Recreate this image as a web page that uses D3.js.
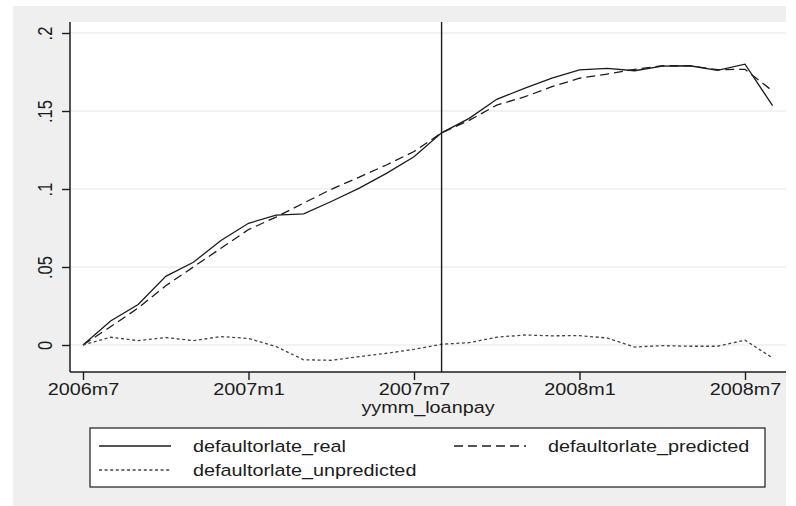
<!DOCTYPE html>
<html>
<head>
<meta charset="utf-8">
<script src="https://cdn.jsdelivr.net/npm/d3@7"></script>
<style>
  body { margin: 0; background: #fff; }
  svg { display: block; font-family: "Liberation Sans", Arial, sans-serif; }
</style>
</head>
<body>
<div id="grafico"></div>
<script>
// months in Stata %tm units (2006m7 = 558)
const months = [558, 559, 560, 561, 562, 563, 564, 565, 566, 567, 568, 569, 570,
                571, 572, 573, 574, 575, 576, 577, 578, 579, 580, 581, 582, 583];
const real = [0, 0.0154, 0.026, 0.044, 0.053, 0.067, 0.078, 0.0833, 0.084, 0.092,
              0.1004, 0.110, 0.1207, 0.136, 0.1453, 0.1575, 0.1645, 0.171, 0.1763,
              0.1773, 0.1758, 0.1788, 0.179, 0.176, 0.180, 0.1534];
const predicted = [0, 0.0117, 0.0237, 0.038, 0.050, 0.062, 0.074, 0.082, 0.091, 0.0998,
                   0.1075, 0.1154, 0.124, 0.136, 0.144, 0.1538, 0.159, 0.1656, 0.171,
                   0.1737, 0.1767, 0.179, 0.179, 0.1765, 0.1767, 0.1628];
const unpredicted = [0, 0.005, 0.0028, 0.0048, 0.0028, 0.0054, 0.0042, -0.001, -0.0095,
                     -0.0098, -0.0075, -0.0053, -0.0028, 0.0005, 0.0015, 0.005, 0.0064,
                     0.0059, 0.006, 0.0045, -0.0013, -0.0004, -0.0008, -0.0008, 0.0031, -0.0083];
const xTicks = [558, 564, 570, 576, 582];
const yTicks = [0, 0.05, 0.1, 0.15, 0.2];
const yTickLabels = ["0", ".05", ".1", ".15", ".2"];
const cutMonth = 571; // 2007m8
const seriesNames = ["defaultorlate_real", "defaultorlate_predicted", "defaultorlate_unpredicted"];

const width = 796, height = 506;
const plot = { left: 70, right: 786, top: 22, bottom: 372 };
const stretch = "scale(1.2,1)";
const ink = "#1c1c1c";

const fmtMonth = m => `${1960 + Math.floor(m / 12)}m${(m % 12) + 1}`;

const svg = d3.select("#grafico").append("svg")
    .attr("width", width)
    .attr("height", height);

// background
svg.append("rect").attr("x", 13).attr("y", 6)
    .attr("width", plot.right - 13).attr("height", height - 6)
    .attr("fill", "#efefef");
svg.append("rect").attr("x", plot.left).attr("y", plot.top)
    .attr("width", plot.right - plot.left).attr("height", plot.bottom - plot.top)
    .attr("fill", "#fff");

const x = d3.scaleLinear().domain([558, 582]).range([83, 745]);
const y = d3.scaleLinear().domain([0, 0.2]).range([345, 33]);

// grid
svg.append("g").selectAll("line")
    .data(yTicks)
    .enter().append("line")
    .attr("x1", plot.left).attr("x2", plot.right)
    .attr("y1", d => y(d)).attr("y2", d => y(d))
    .attr("stroke", "#e6e6e6")
    .attr("stroke-width", 1.2);

// lines
const series = [
    { values: real, dash: null, color: ink },
    { values: predicted, dash: "9,5", color: ink },
    { values: unpredicted, dash: "3,2.6", color: "#444" }
];
const line = d3.line().x((d, i) => x(months[i])).y(d => y(d));

svg.append("g").selectAll("path")
    .data(series)
    .enter().append("path")
    .attr("d", d => line(d.values))
    .attr("fill", "none")
    .attr("stroke", d => d.color)
    .attr("stroke-width", 1.3)
    .attr("stroke-dasharray", d => d.dash);

// vertical marker
svg.append("line")
    .attr("x1", x(cutMonth)).attr("x2", x(cutMonth))
    .attr("y1", plot.top).attr("y2", plot.bottom)
    .attr("stroke", ink).attr("stroke-width", 1.4);

// axes
const xAxis = svg.append("g")
    .attr("transform", `translate(0,${plot.bottom})`)
    .call(d3.axisBottom(x).tickValues(xTicks).tickFormat(fmtMonth).tickSize(8));
xAxis.select(".domain").remove();
xAxis.selectAll("line").attr("stroke", ink).attr("stroke-width", 1.4);
xAxis.selectAll("text")
    .attr("y", 23).attr("dy", 0)
    .attr("transform", stretch)
    .attr("fill", ink)
    .style("font-size", "16.5px")
    .style("font-family", "'Liberation Sans', Arial, sans-serif");

const yAxis = svg.append("g")
    .attr("transform", `translate(${plot.left},0)`)
    .call(d3.axisLeft(y).tickValues(yTicks).tickFormat((d, i) => yTickLabels[i]).tickSize(8));
yAxis.select(".domain").remove();
yAxis.selectAll("line").attr("stroke", ink).attr("stroke-width", 1.4);
yAxis.selectAll("text")
    .attr("x", 0).attr("dy", 0)
    .attr("text-anchor", "middle")
    .attr("transform", `translate(-18,0) ${stretch} rotate(-90)`)
    .attr("fill", ink)
    .style("font-size", "16.5px")
    .style("font-family", "'Liberation Sans', Arial, sans-serif");

svg.append("line")
    .attr("x1", plot.left).attr("x2", plot.left)
    .attr("y1", plot.top).attr("y2", plot.bottom)
    .attr("stroke", ink).attr("stroke-width", 1.5);
svg.append("line")
    .attr("x1", plot.left).attr("x2", plot.right)
    .attr("y1", plot.bottom).attr("y2", plot.bottom)
    .attr("stroke", ink).attr("stroke-width", 1.5);

svg.append("text")
    .attr("transform", `translate(${(plot.left + plot.right) / 2},413) ${stretch}`)
    .attr("text-anchor", "middle")
    .attr("fill", ink)
    .style("font-size", "16.5px")
    .text("yymm_loanpay");

// legend
const legend = svg.append("g");
legend.append("rect")
    .attr("x", 90).attr("y", 428).attr("width", 675).attr("height", 59)
    .attr("fill", "#fff").attr("stroke", ink).attr("stroke-width", 1.2);

const legendItems = [
    { name: seriesNames[0], s: series[0], x: 99, y: 446 },
    { name: seriesNames[1], s: series[1], x: 454, y: 446 },
    { name: seriesNames[2], s: series[2], x: 99, y: 470 }
];
legendItems.forEach(it => {
    legend.append("line")
        .attr("x1", it.x).attr("x2", it.x + 72)
        .attr("y1", it.y).attr("y2", it.y)
        .attr("stroke", it.s.color).attr("stroke-width", 1.3)
        .attr("stroke-dasharray", it.s.dash);
    legend.append("text")
        .attr("transform", `translate(${it.x + 94},${it.y + 6}) ${stretch}`)
        .attr("fill", ink)
        .style("font-size", "16.5px")
        .text(it.name);
});
</script>
</body>
</html>
